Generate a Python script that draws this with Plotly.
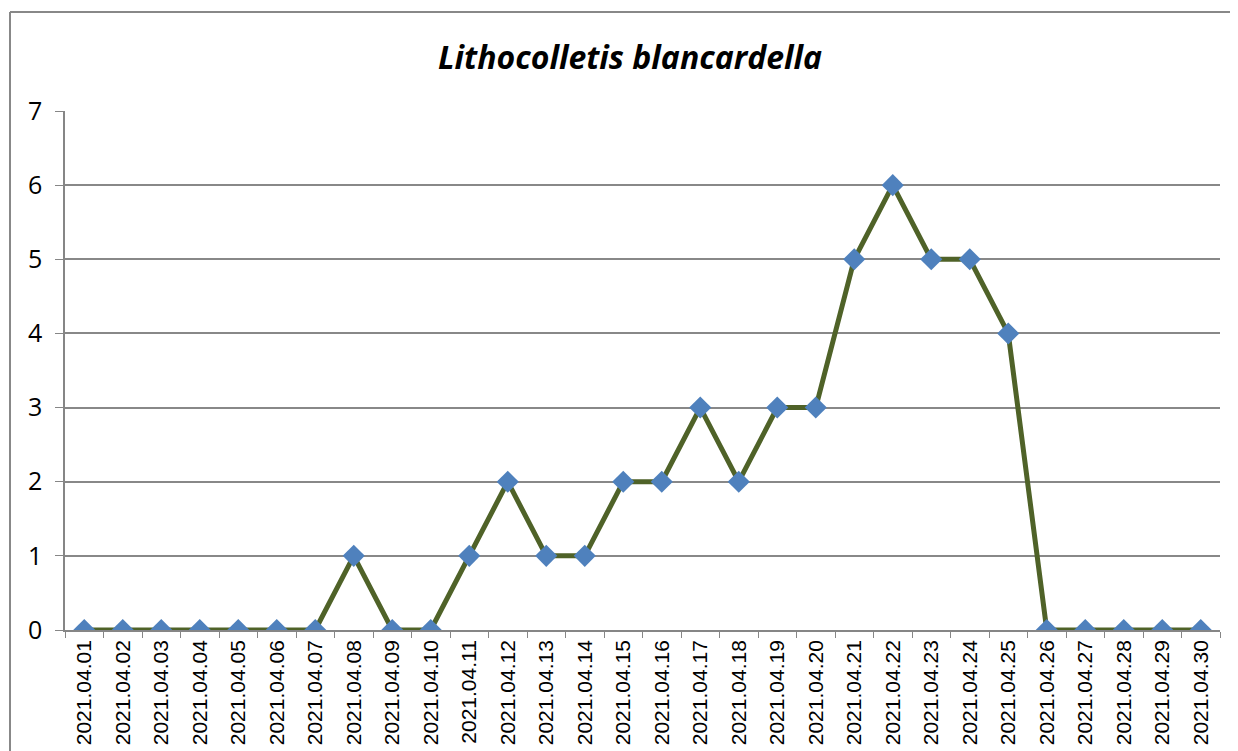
import plotly.graph_objects as go

dates = [f"2021.04.{d:02d}" for d in range(1, 31)]
counts = [0, 0, 0, 0, 0, 0, 0, 1, 0, 0, 1, 2, 1, 1, 2, 2, 3, 2, 3, 3,
          5, 6, 5, 5, 4, 0, 0, 0, 0, 0]
title_text = "Lithocolletis blancardella"

OFF = 8  # default page body margin
W, H = 1238 - OFF, 751 - OFF
L, T = 65 - OFF, 111 - OFF
R = OFF + W - 1220
B = OFF + H - 630
pw, ph = W - L - R, H - T - B

fig = go.Figure()
fig.add_trace(go.Scatter(
    x=dates, y=counts, mode="lines+markers",
    line=dict(color="#4F6228", width=5),
    marker=dict(symbol="diamond", size=17, color="#4F81BD",
                line=dict(width=0)),
    showlegend=False,
))

bx = (10 - OFF - L) / pw
by = 1 + (T - (12 - OFF)) / ph
border = dict(color="#888888", width=2)

fig.update_layout(
    width=W, height=H,
    margin=dict(l=L, r=R, t=T, b=B),
    paper_bgcolor="white", plot_bgcolor="white",
    title=dict(text=f"<b><i>{title_text}</i></b>", x=(630 - OFF) / W, xanchor="center",
               y=1 - (58 - OFF) / H, yanchor="middle",
               font=dict(family="Open Sans, Noto Sans, sans-serif", size=32, color="black")),
    xaxis=dict(type="category", tickangle=-90, showgrid=False, automargin=False,
               showline=True, linecolor="#868686", linewidth=1.5,
               ticks="outside", tickson="boundaries", ticklen=6, tickcolor="#868686",
               tickfont=dict(family="Liberation Sans, Arial, sans-serif", size=21, color="black"),
               range=[-0.5, 29.5]),
    yaxis=dict(range=[0, 7], dtick=1, showgrid=True, gridcolor="#888888", gridwidth=1.5,
               showline=True, linecolor="#868686", linewidth=1.5, automargin=False,
               ticks="outside", ticklen=8, tickcolor="#868686",
               ticklabelstandoff=8,
               tickfont=dict(family="Open Sans, sans-serif", size=25, color="black"),
               zeroline=False),
    shapes=[
        dict(type="line", xref="paper", yref="paper", x0=bx, x1=bx, y0=-0.6, y1=by,
             line=border, layer="below"),
        dict(type="line", xref="paper", yref="paper", x0=bx, x1=1.5, y0=by, y1=by,
             line=border, layer="below"),
    ],
)

fig.write_html("out.html", config={"displayModeBar": False})
